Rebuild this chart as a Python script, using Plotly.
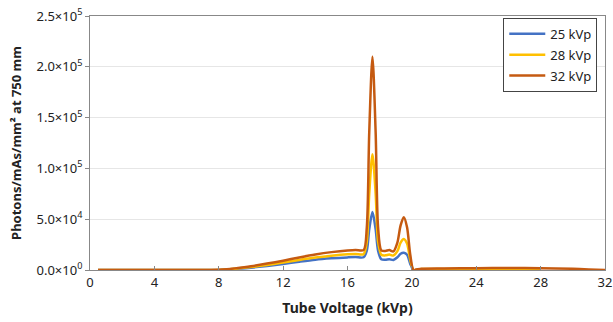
import plotly.graph_objects as go

# Energy grids (kVp) and photon fluence per series
energy_32 = [0.5, 2, 4, 6, 7.5, 8, 8.5, 9, 10, 11, 12, 13, 14, 15, 16, 16.5, 17.0, 17.2, 17.35, 17.55, 17.75, 17.9,
             18.1, 18.35, 18.6, 18.85, 19.1, 19.3, 19.5, 19.7, 19.9, 20.1, 20.3, 20.6, 22, 24, 26, 28, 30, 31, 32]
photons_32 = [0, 0, 0, 0, 0, 150, 700, 1600, 3700, 6300, 9200, 12400, 15300, 17600, 19300, 19800, 19600, 42000, 135000,
              210000, 135000, 42000, 19300, 18700, 19600, 18300, 27000, 44000, 52000, 42000, 15000, 0, 500,
              1200, 1500, 1800, 2000, 1800, 1200, 600, 0]

energy_28 = [0.5, 2, 4, 6, 7.5, 8, 8.5, 9, 10, 11, 12, 13, 14, 15, 16, 16.5, 17.0, 17.2, 17.35, 17.55, 17.75, 17.9,
             18.1, 18.35, 18.6, 18.85, 19.1, 19.3, 19.5, 19.7, 19.9, 20.1, 20.3, 20.6, 22, 24, 26, 27, 28]
photons_28 = [0, 0, 0, 0, 0, 120, 550, 1300, 2900, 4900, 7300, 9900, 12200, 14000, 15400, 15800, 15600, 28000, 75000,
              114000, 75000, 28000, 15000, 14400, 15200, 14200, 18500, 27000, 30500, 26000, 10000, 0, 400,
              900, 1100, 1300, 1300, 900, 0]

energy_25 = [0.5, 2, 4, 6, 7.5, 8, 8.5, 9, 10, 11, 12, 13, 14, 15, 16, 16.5, 17.0, 17.2, 17.35, 17.55, 17.75, 17.9,
             18.1, 18.35, 18.6, 18.85, 19.1, 19.3, 19.5, 19.7, 19.9, 20.1, 20.3, 20.6, 22, 24, 25]
photons_25 = [0, 0, 0, 0, 0, 100, 450, 1000, 2300, 4000, 6000, 8200, 10200, 11500, 12400, 12700, 12500, 19000, 40000,
              57000, 40000, 19000, 10500, 10000, 10600, 9800, 12500, 16000, 17000, 15000, 6000, 0, 300,
              700, 800, 800, 0]

series_names = ["25 kVp", "28 kVp", "32 kVp"]
series_colors = ["#4472C4", "#FFC000", "#C55A11"]

y_tickvals = [0, 50000, 100000, 150000, 200000, 250000]
y_ticktext = ["0.0×10<sup>0</sup>", "5.0×10<sup>4</sup>", "1.0×10<sup>5</sup>",
              "1.5×10<sup>5</sup>", "2.0×10<sup>5</sup>", "2.5×10<sup>5</sup>"]
x_tickvals = [0, 4, 8, 12, 16, 20, 24, 28, 32]

fig = go.Figure()
for name, color, xs, ys in zip(series_names, series_colors,
                               [energy_25, energy_28, energy_32],
                               [photons_25, photons_28, photons_32]):
    fig.add_trace(go.Scatter(x=xs, y=ys, mode="lines", name=name, legendgroup=name,
                             line=dict(color=color, width=2.5, shape="spline", smoothing=0.8)))

font_family = "Noto Sans, Open Sans, DejaVu Sans, sans-serif"
fig.update_layout(
    width=613, height=322,
    margin=dict(l=90, r=8, t=16, b=52),
    paper_bgcolor="white", plot_bgcolor="white",
    font=dict(family=font_family, size=12, color="#222222"),
    showlegend=True,
    legend=dict(x=0.985, y=0.993, xanchor="right", yanchor="top",
                bordercolor="#444444", borderwidth=1, bgcolor="white",
                font=dict(size=13, color="#222222"),
                itemwidth=36, tracegroupgap=1),
    xaxis=dict(range=[0, 32], tickvals=x_tickvals, showgrid=False, zeroline=False, automargin=False,
               showline=True, linecolor="#888888", linewidth=1, mirror=True,
               ticks="inside", ticklen=4, tickcolor="#888888", ticklabeloverflow="allow",
               tickfont=dict(size=13, color="#222222"),
               title=dict(text="<b>Tube Voltage (kVp)</b>", font=dict(size=14, color="#222222"), standoff=13)),
    yaxis=dict(range=[0, 250000], tickvals=y_tickvals, ticktext=y_ticktext, automargin=False,
               showgrid=True, gridcolor="#E6E6E6", gridwidth=1, zeroline=False,
               showline=True, linecolor="#888888", linewidth=1, mirror=True,
               ticks="outside", ticklen=4, tickcolor="#888888", ticklabeloverflow="allow",
               tickfont=dict(size=13, color="#222222"),
               title=dict(text="<b>Photons/mAs/mm² at 750 mm</b>", font=dict(size=13, color="#222222"), standoff=11)),
)

fig.write_html("out.html",
               config={"displayModeBar": False},
               post_script="document.body.style.margin='0';document.body.style.overflow='hidden';")
